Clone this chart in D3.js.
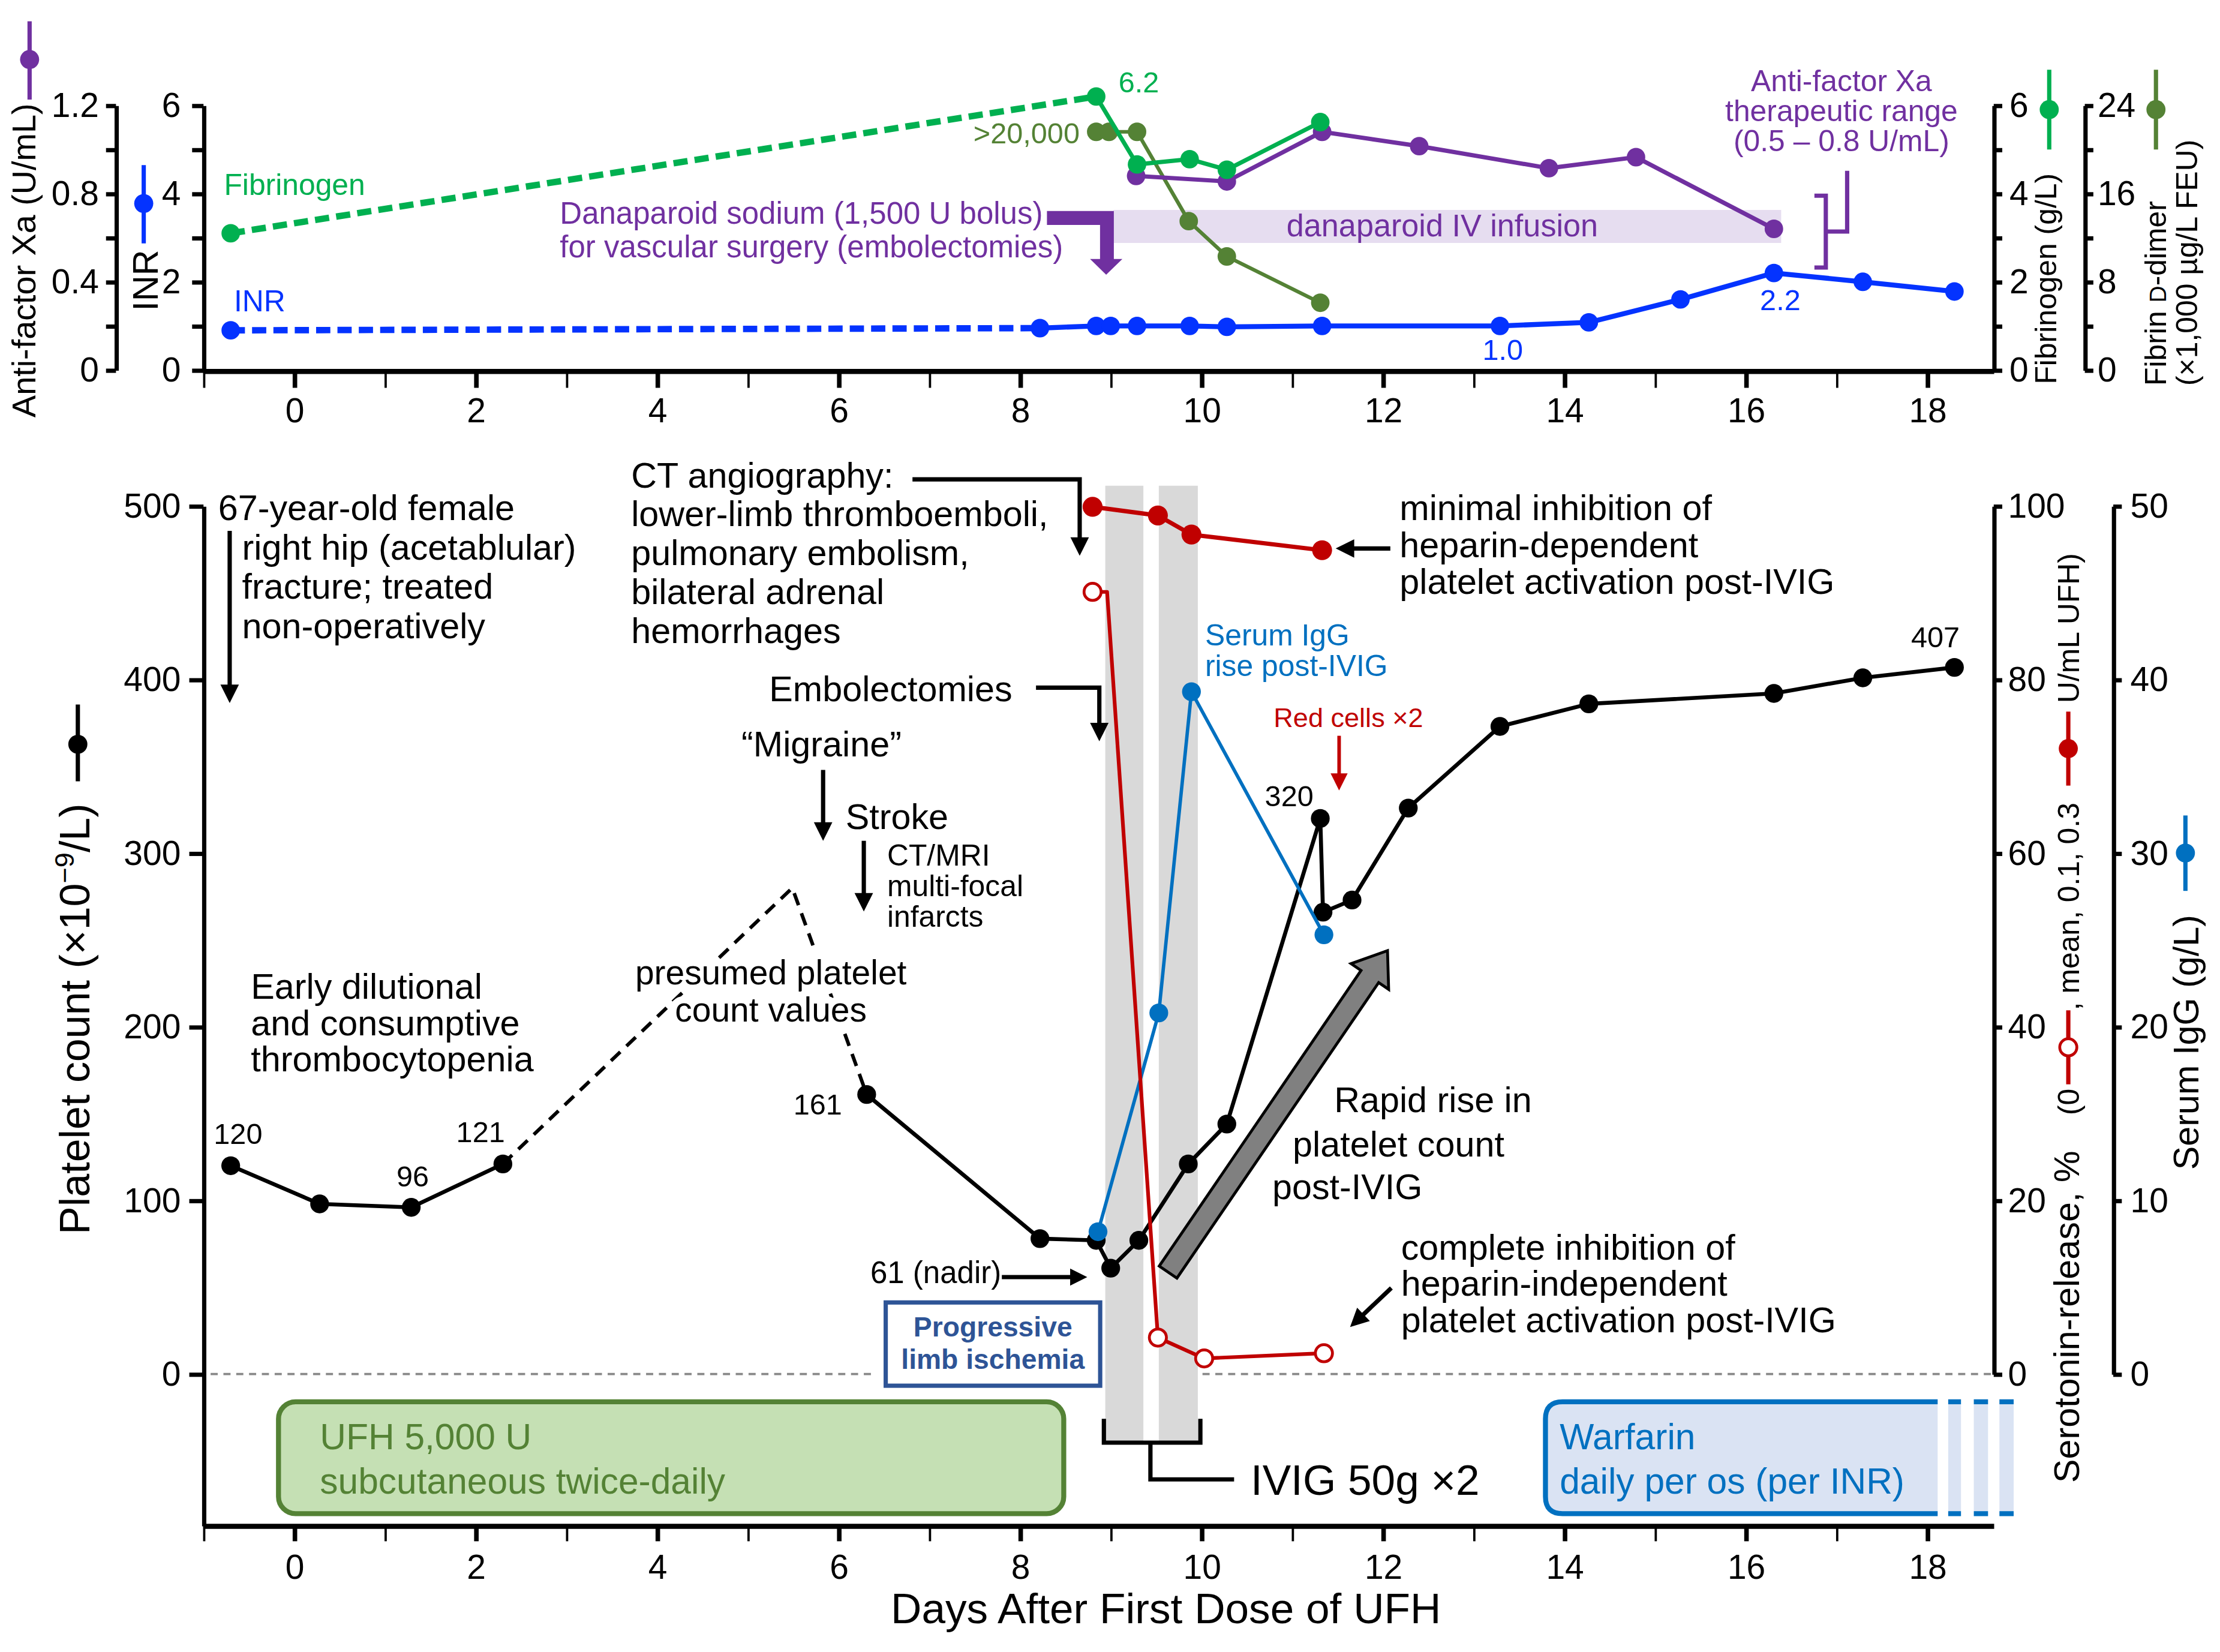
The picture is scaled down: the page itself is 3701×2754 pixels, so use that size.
<!DOCTYPE html>
<html>
<head>
<meta charset="utf-8">
<script src="https://cdn.jsdelivr.net/npm/d3@7"></script>
<style>
html, body { margin: 0; padding: 0; background: #fff; }
svg { display: block; }
</style>
</head>
<body>
<script>
// ---------- data ----------
var dayTicks = d3.range(-1, 19);

// platelet count (x10^9/L)
var plateletDays    = [-0.70, 0.28, 1.29, 2.30];
var plateletCounts  = [120, 98, 96, 121];
var presumedDays    = [2.30, 5.49, 6.31];
var presumedCounts  = [121, 280, 161];
var plateletDays2   = [6.31, 8.22, 8.84, 9.00, 9.31, 9.855, 10.28, 11.31, 11.34, 11.66, 12.28, 13.29, 14.27, 16.31, 17.29, 18.30];
var plateletCounts2 = [161, 78, 77, 61, 77, 121, 144, 320, 266, 273, 326, 373, 386, 392, 401, 407];

// serotonin release (%)
var srMeanDays   = [8.80, 9.52, 9.89, 11.33];
var srMeanValues = [99.9, 98.9, 96.7, 94.9];
var srZeroDays   = [8.80, 8.96, 9.52, 10.03, 11.35];
var srZeroValues = [90.1, 90.1, 4.2, 1.8, 2.4];
var srZeroMarked = [1, 0, 1, 1, 1];

// serum IgG (g/L)
var iggDays   = [8.86, 9.53, 9.89, 11.35];
var iggValues = [8.2, 20.8, 39.3, 25.3];

// IVIG infusions
var ivigStart = [8.94, 9.53];
var ivigEnd   = [9.36, 9.96];

// top panel
var inrDays   = [-0.70, 8.22, 8.84, 9.00, 9.29, 9.87, 10.28, 11.33, 13.29, 14.27, 15.28, 16.31, 17.29, 18.30];
var inrValues = [0.9, 0.95, 1.0, 1.0, 1.0, 1.0, 0.98, 1.0, 1.0, 1.08, 1.6, 2.2, 2.0, 1.78];
var xaDays    = [9.28, 10.28, 11.33, 12.40, 13.83, 14.79, 16.31];
var xaValues  = [0.88, 0.855, 1.08, 1.015, 0.915, 0.965, 0.64];
var fibDays   = [-0.70, 8.84, 9.29, 9.87, 10.28, 11.31];
var fibValues = [3.1, 6.2, 4.66, 4.78, 4.54, 5.62];
var ddDays    = [8.84, 8.98, 9.29, 9.86, 10.28, 11.31];
var ddValues  = [21.6, 21.6, 21.6, 13.5, 10.3, 6.1];
var danaparoidDays = [9.03, 16.39];

// axis ticks
var inrTicks = d3.range(0, 7);
var xaTicks = [0, 0.2, 0.4, 0.6, 0.8, 1.0, 1.2];
var xaTickLabels = ["0", "", "0.4", "", "0.8", "", "1.2"];
var fibTicks = d3.range(0, 7);
var ddTicks = [0, 4, 8, 12, 16, 20, 24];
var pltTicks = [0, 100, 200, 300, 400, 500];
var srTicks = [0, 20, 40, 60, 80, 100];
var iggTicks = [0, 10, 20, 30, 40, 50];

// ---------- setup ----------
var FONT = '"Liberation Sans", Arial, Helvetica, sans-serif';
var C = {
  red: "#C00000", igg: "#0070C0", inr: "#0433FF", xa: "#7030A0",
  fib: "#00B050", dd: "#548235", band: "#E6DDF0", ivig: "#D9D9D9",
  ufh: "#C5E0B4", warf: "#DAE3F3", prog: "#2E5496"
};

var svg = d3.select("body").append("svg")
    .attr("width", 3701).attr("height", 2754)
    .attr("viewBox", "0 0 1560 1160.8")
    .style("font-family", FONT);

svg.append("rect").attr("width", 1560).attr("height", 1160.8).attr("fill", "#fff");

var x = d3.scaleLinear().domain([-1, 18.73]).range([143, 1400.8]);

var yInr = d3.scaleLinear().domain([0, 6]).range([260, 74]);
var yXa  = d3.scaleLinear().domain([0, 1.2]).range([260, 74]);
var yFib = d3.scaleLinear().domain([0, 6]).range([260, 74]);
var yDd  = d3.scaleLinear().domain([0, 24]).range([260, 74]);

var yPlt = d3.scaleLinear().domain([-87.3, 500]).range([1072, 355.5]);
var ySr  = d3.scaleLinear().domain([0, 100]).range([965.5, 355.5]);
var yIgg = d3.scaleLinear().domain([0, 50]).range([965.5, 355.5]);

// ---------- helpers ----------
function txt(px, py, str, size, color, anchor, weight) {
  return svg.append("text").attr("x", px).attr("y", py)
    .attr("font-size", size).attr("fill", color || "#000")
    .attr("text-anchor", anchor || "start")
    .attr("font-weight", weight || "normal").text(str);
}
function block(px, py, step, arr, size, color, anchor, weight) {
  arr.forEach(function(s, i) { txt(px, py + i * step, s, size, color, anchor, weight); });
}
function vtext(px, py, str, size, color, anchor) {
  return svg.append("text").attr("transform", "translate(" + px + "," + py + ") rotate(-90)")
    .attr("text-anchor", anchor || "middle").attr("font-size", size)
    .attr("fill", color || "#000").text(str);
}
function series(days, vals, ys, color, w, dash) {
  var pts = days.map(function(d, i) { return [x(d), ys(vals[i])]; });
  svg.append("path").attr("d", d3.line()(pts))
    .attr("fill", "none").attr("stroke", color).attr("stroke-width", w)
    .attr("stroke-linejoin", "round").attr("stroke-dasharray", dash || null);
}
function dots(days, vals, ys, color, r, open, mask) {
  var pts = days.map(function(d, i) { return {d: d, v: vals[i], m: mask ? mask[i] : 1}; })
    .filter(function(p) { return p.m; });
  svg.append("g").selectAll("circle").data(pts).enter().append("circle")
    .attr("cx", function(p) { return x(p.d); })
    .attr("cy", function(p) { return ys(p.v); })
    .attr("r", r)
    .attr("fill", open ? "#fff" : color)
    .attr("stroke", open ? color : "none")
    .attr("stroke-width", open ? 2 : 0);
}
function arrow(pts, color, w, hl, hw) {
  w = w || 3; hl = hl || 13; hw = hw || 6.5;
  var n = pts.length, p = pts[n - 1], q = pts[n - 2];
  var dx = p[0] - q[0], dy = p[1] - q[1], L = Math.hypot(dx, dy), ux = dx / L, uy = dy / L;
  var b = [p[0] - ux * hl, p[1] - uy * hl];
  var path = pts.slice(0, n - 1).concat([[p[0] - ux * hl * 0.6, p[1] - uy * hl * 0.6]]);
  svg.append("path").attr("d", d3.line()(path)).attr("fill", "none")
    .attr("stroke", color).attr("stroke-width", w).attr("stroke-linejoin", "miter");
  svg.append("path").attr("d", d3.line()([p, [b[0] - uy * hw, b[1] + ux * hw], [b[0] + uy * hw, b[1] - ux * hw]]) + "Z")
    .attr("fill", color);
}
function key(px, y1, y2, yc, color, open) {
  svg.append("line").attr("x1", px).attr("x2", px).attr("y1", y1).attr("y2", y2)
    .attr("stroke", color).attr("stroke-width", 3);
  svg.append("circle").attr("cx", px).attr("cy", yc).attr("r", open ? 6 : 6.7)
    .attr("fill", open ? "#fff" : color).attr("stroke", open ? color : "none").attr("stroke-width", 2);
}
function styleAxis(g) {
  g.attr("font-size", 24).attr("font-family", FONT);
  g.select(".domain").attr("stroke-width", 3);
  g.selectAll(".tick line").attr("stroke-width", 3);
  return g;
}
function dayAxis(yPos, tick, pad) {
  var g = svg.append("g").attr("transform", "translate(0," + yPos + ")")
    .call(d3.axisBottom(x).tickValues(dayTicks).tickSize(tick).tickPadding(pad).tickSizeOuter(0)
      .tickFormat(function(d) { return d % 2 === 0 ? d : ""; }));
  styleAxis(g);
  g.select(".domain").attr("stroke-width", 3.5);
  g.selectAll(".tick line").attr("stroke-width", function(d) { return d % 2 === 0 ? 3.2 : 1.6; });
}

// =================== TOP PANEL ===================
// danaparoid infusion band
svg.append("rect").attr("x", x(danaparoidDays[0])).attr("y", 147.5)
  .attr("width", x(danaparoidDays[1]) - x(danaparoidDays[0])).attr("height", 23.2)
  .attr("fill", C.band);
txt(1013.5, 166, "danaparoid IV infusion", 22, C.xa, "middle");

// bolus arrow
svg.append("path").attr("d", "M735.7,148.2H782.7V182H788.7L777.3,193L766,182H773V158H735.7Z").attr("fill", C.xa);
block(393.4, 157, 24, ["Danaparoid sodium (1,500 U bolus)", "for vascular surgery (embolectomies)"], 21.5, C.xa);

// therapeutic range bracket
svg.append("path").attr("d", "M1275,137.5H1283V188H1275M1283,162.7H1298V120")
  .attr("fill", "none").attr("stroke", C.xa).attr("stroke-width", 3);
block(1294, 64, 21, ["Anti-factor Xa", "therapeutic range", "(0.5 \u2013 0.8 U/mL)"], 21, C.xa, "middle");

// series
series(inrDays.slice(0, 2), inrValues.slice(0, 2), yInr, C.inr, 4.5, "10,5");
series(inrDays.slice(1), inrValues.slice(1), yInr, C.inr, 3.5);
dots(inrDays, inrValues, yInr, C.inr, 6.5);

series(ddDays, ddValues, yDd, C.dd, 2.6);
dots(ddDays, ddValues, yDd, C.dd, 6.5);

series(xaDays, xaValues, yXa, C.xa, 3);
dots(xaDays, xaValues, yXa, C.xa, 6.5);

series(fibDays.slice(0, 2), fibValues.slice(0, 2), yFib, C.fib, 4.5, "10,5");
series(fibDays.slice(1), fibValues.slice(1), yFib, C.fib, 3);
dots(fibDays, fibValues, yFib, C.fib, 6.5);

txt(157.4, 137, "Fibrinogen", 21, C.fib);
txt(164.4, 218.7, "INR", 21, C.inr);
txt(786, 65, "6.2", 20.5, C.fib);
txt(758.7, 100.7, ">20,000", 20.5, C.dd, "end");
txt(1056, 252.8, "1.0", 20.5, C.inr, "middle");
txt(1251, 218, "2.2", 20.5, C.inr, "middle");

// axes
dayAxis(260.5, 12, 7);
styleAxis(svg.append("g").attr("transform", "translate(81.5,0)")
  .call(d3.axisLeft(yXa).tickValues(xaTicks).tickSize(7).tickPadding(5).tickSizeOuter(0)
    .tickFormat(function(d, i) { return xaTickLabels[i]; })));
styleAxis(svg.append("g").attr("transform", "translate(143,0)")
  .call(d3.axisLeft(yInr).tickValues(inrTicks).tickSize(8).tickPadding(8).tickSizeOuter(0)
    .tickFormat(function(d) { return d % 2 === 0 ? d : ""; })));
styleAxis(svg.append("g").attr("transform", "translate(1401,0)")
  .call(d3.axisRight(yFib).tickValues(fibTicks).tickSize(6).tickPadding(5).tickSizeOuter(0)
    .tickFormat(function(d) { return d % 2 === 0 ? d : ""; })));
styleAxis(svg.append("g").attr("transform", "translate(1465,0)")
  .call(d3.axisRight(yDd).tickValues(ddTicks).tickSize(6).tickPadding(3).tickSizeOuter(0)
    .tickFormat(function(d) { return d % 8 === 0 ? d : ""; })));

// axis titles + keys
vtext(25, 183, "Anti-factor Xa (U/mL)", 23.5);
key(20.8, 15, 70, 41.8, C.xa);
vtext(111, 197, "INR", 25);
key(101, 116, 171, 143, C.inr);
vtext(1445, 270, "Fibrinogen (g/L)", 21, "#000", "start");
key(1440, 49, 105, 77, C.fib);
var dd1 = vtext(1522, 271, "", 21, "#000", "start");
dd1.append("tspan").text("Fibrin ");
dd1.append("tspan").attr("font-size", 16.5).text("D");
dd1.append("tspan").text("-dimer");
vtext(1544, 271, "(\u00d71,000 \u00b5g/L FEU)", 21, "#000", "start");
key(1515, 49, 105, 77, C.dd);

// =================== BOTTOM PANEL ===================
// IVIG bands
svg.append("g").selectAll("rect").data(ivigStart).enter().append("rect")
  .attr("x", function(d) { return x(d); })
  .attr("width", function(d, i) { return x(ivigEnd[i]) - x(d); })
  .attr("y", 341.3).attr("height", 1013.7 - 341.3)
  .attr("fill", C.ivig);

// zero reference
svg.append("path").attr("d", "M148," + yPlt(0) + "H613M845," + yPlt(0) + "H1400")
  .attr("stroke", "#888").attr("stroke-width", 1.6).attr("stroke-dasharray", "5,4");

// IVIG bracket
svg.append("path").attr("d", "M775.7,997V1013.7H843.5V997M808.4,1013.7V1039.5H867.2")
  .attr("fill", "none").attr("stroke", "#000").attr("stroke-width", 3);
txt(878.8, 1050.2, "IVIG 50g \u00d72", 30);

// platelets
series(presumedDays, presumedCounts, yPlt, "#000", 2.5, "9,6");
series(plateletDays, plateletCounts, yPlt, "#000", 2.8);
series(plateletDays2, plateletCounts2, yPlt, "#000", 2.8);
dots(plateletDays, plateletCounts, yPlt, "#000", 6.6);
dots(plateletDays2, plateletCounts2, yPlt, "#000", 6.6);

// IgG
series(iggDays, iggValues, yIgg, C.igg, 2.4);
dots(iggDays, iggValues, yIgg, C.igg, 6.6);

// serotonin release
series(srZeroDays, srZeroValues, ySr, C.red, 2.6);
dots(srZeroDays, srZeroValues, ySr, C.red, 6, true, srZeroMarked);
series(srMeanDays, srMeanValues, ySr, C.red, 3);
dots(srMeanDays, srMeanValues, ySr, C.red, 7);

// big gray arrow
(function() {
  var T = [820.8, 893.9], P = [975, 668];
  var dx = P[0] - T[0], dy = P[1] - T[1], L = Math.hypot(dx, dy), ux = dx / L, uy = dy / L;
  var nx = -uy, ny = ux, hl = 22, sw = 7.5, hw = 16;
  var B = [P[0] - ux * hl, P[1] - uy * hl];
  var poly = [
    [T[0] + nx * sw, T[1] + ny * sw], [B[0] + nx * sw, B[1] + ny * sw], [B[0] + nx * hw, B[1] + ny * hw],
    P, [B[0] - nx * hw, B[1] - ny * hw], [B[0] - nx * sw, B[1] - ny * sw], [T[0] - nx * sw, T[1] - ny * sw]
  ];
  svg.append("path").attr("d", d3.line()(poly) + "Z").attr("fill", "#808080")
    .attr("stroke", "#000").attr("stroke-width", 2).attr("stroke-linejoin", "miter");
})();

// point labels
txt(167.3, 803.9, "120", 20.5, "#000", "middle");
txt(290, 833.6, "96", 20.5, "#000", "middle");
txt(337.7, 802.4, "121", 20.5, "#000", "middle");
txt(591.7, 783.1, "161", 20.5, "#000", "end");
txt(923, 566.5, "320", 20.5, "#000", "end");
txt(1360, 455, "407", 20.5, "#000", "middle");
txt(611.6, 901.8, "61 (nadir)", 21.5);
arrow([[704, 897.4], [764, 897.4]], "#000", 3, 12, 6);

// annotations
block(153.3, 365.5, 0, ["67-year-old female"], 25);
block(170.1, 393.2, 27.6, ["right hip (acetablular)", "fracture; treated", "non-operatively"], 25);
arrow([[161.4, 373], [161.4, 494]], "#000");

block(443.5, 342.5, 27.3, ["CT angiography:", "lower-limb thromboemboli,", "pulmonary embolism,", "bilateral adrenal", "hemorrhages"], 25);
arrow([[641.2, 336.8], [758.7, 336.8], [758.7, 390.5]], "#000");

txt(540.5, 492.7, "Embolectomies", 25);
arrow([[728, 483.2], [772.5, 483.2], [772.5, 520.9]], "#000");

txt(521, 531.6, "\u201cMigraine\u201d", 25);
arrow([[578.4, 541], [578.4, 590.8]], "#000");
txt(594.2, 582.7, "Stroke", 25);
arrow([[607, 590.8], [607, 640.5]], "#000");
block(623.4, 608.3, 21.5, ["CT/MRI", "multi-focal", "infarcts"], 21);

block(176.3, 702, 25.5, ["Early dilutional", "and consumptive", "thrombocytopenia"], 25);

block(541.7, 691.6, 26.2, ["presumed platelet", "count values"], 24, "#000", "middle");

block(846.8, 453.7, 21.3, ["Serum IgG", "rise post-IVIG"], 21, C.igg);
txt(895, 511, "Red cells \u00d72", 19, C.red);
arrow([[941, 517], [941, 555.4]], C.red, 2.5, 12, 6);

block(983.5, 365.5, 25.9, ["minimal inhibition of", "heparin-dependent", "platelet activation post-IVIG"], 25);
arrow([[977, 385.4], [938.6, 385.4]], "#000");

block(984.5, 885, 25.5, ["complete inhibition of", "heparin-independent", "platelet activation post-IVIG"], 25);
arrow([[977.7, 905], [948.7, 932.5]], "#000");

txt(937.5, 781.5, "Rapid rise in", 25);
txt(908.4, 812.7, "platelet count", 25);
txt(894, 842.5, "post-IVIG", 25);

// progressive limb ischemia
svg.append("rect").attr("x", 622.4).attr("y", 915.2).attr("width", 150.7).attr("height", 58.5)
  .attr("fill", "#fff").attr("stroke", C.prog).attr("stroke-width", 3);
block(697.7, 939, 22.8, ["Progressive", "limb ischemia"], 19.5, C.prog, "middle", "bold");

// UFH box
svg.append("rect").attr("x", 195.7).attr("y", 985).attr("width", 551.8).attr("height", 78.6)
  .attr("rx", 12).attr("fill", C.ufh).attr("stroke", C.dd).attr("stroke-width", 3.5);
block(224.8, 1018.5, 31.1, ["UFH 5,000 U", "subcutaneous twice-daily"], 25.5, C.dd);

// warfarin box
(function() {
  var x0 = 1086, x1 = 1415, y0 = 985, y1 = 1063.6, r = 12;
  var open = "M" + x1 + "," + y0 + "H" + (x0 + r) + "Q" + x0 + "," + y0 + " " + x0 + "," + (y0 + r) +
    "V" + (y1 - r) + "Q" + x0 + "," + y1 + " " + (x0 + r) + "," + y1 + "H" + x1;
  svg.append("path").attr("d", open + "Z").attr("fill", C.warf);
  svg.append("path").attr("d", open).attr("fill", "none").attr("stroke", C.igg).attr("stroke-width", 3.5);
  [[1361.6, 1369], [1378, 1387], [1397, 1405]].forEach(function(g) {
    svg.append("rect").attr("x", g[0]).attr("y", y0 - 3).attr("width", g[1] - g[0]).attr("height", y1 - y0 + 6).attr("fill", "#fff");
  });
})();
block(1096, 1018.5, 31.1, ["Warfarin", "daily per os (per INR)"], 25.5, C.igg);

// axes
dayAxis(1072, 11, 9.5);
styleAxis(svg.append("g").attr("transform", "translate(143,0)")
  .call(d3.axisLeft(yPlt).tickValues(pltTicks).tickSize(10).tickPadding(6).tickSizeOuter(0)));
styleAxis(svg.append("g").attr("transform", "translate(1401,0)")
  .call(d3.axisRight(ySr).tickValues(srTicks).tickSize(6).tickPadding(4).tickSizeOuter(0)));
styleAxis(svg.append("g").attr("transform", "translate(1485,0)")
  .call(d3.axisRight(yIgg).tickValues(iggTicks).tickSize(6).tickPadding(6).tickSizeOuter(0)));

txt(819.3, 1140.6, "Days After First Dose of UFH", 30, "#000", "middle");

// platelet title
var pt = vtext(63, 716, "", 29.5);
pt.append("tspan").text("Platelet count (\u00d710");
pt.append("tspan").attr("font-size", 19).attr("dy", -11).text("\u22129");
pt.append("tspan").attr("dy", 11).text("/L)");
key(54.7, 495, 549, 523, "#000");

// serotonin title with inline keys
(function() {
  var g = svg.append("g").attr("transform", "translate(1461,1042) rotate(-90)");
  var pos = 0;
  function seg(s, size) {
    var t = g.append("text").attr("x", pos).attr("font-size", size).text(s);
    pos += t.node().getComputedTextLength();
  }
  function sym(open) {
    g.append("line").attr("x1", pos).attr("x2", pos + 52).attr("y1", -7.6).attr("y2", -7.6)
      .attr("stroke", C.red).attr("stroke-width", 3);
    g.append("circle").attr("cx", pos + 26).attr("cy", -7.6).attr("r", open ? 6 : 6.7)
      .attr("fill", open ? "#fff" : C.red).attr("stroke", open ? C.red : "none").attr("stroke-width", 2);
    pos += 52;
  }
  seg("Serotonin-release, %", 25);
  pos += 25;
  seg("(0", 21);
  pos += 3;
  sym(true);
  seg(", mean, 0.1, 0.3", 21);
  pos += 12;
  sym(false);
  pos += 6;
  seg("U/mL UFH)", 21);
})();

vtext(1545, 822, "Serum IgG (g/L)", 25, "#000", "start");
key(1535.7, 573, 626, 599.4, C.igg);

// halo on presumed text over dashed line
svg.selectAll("text").filter(function() {
  var s = d3.select(this).text();
  return s === "presumed platelet" || s === "count values";
}).attr("stroke", "#fff").attr("stroke-width", 10).attr("paint-order", "stroke").attr("stroke-linejoin", "round");
</script>
</body>
</html>
